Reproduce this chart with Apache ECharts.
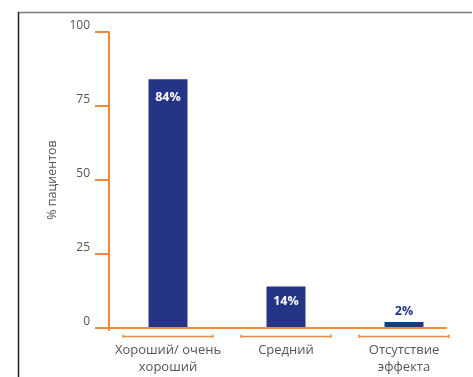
<!DOCTYPE html>
<html>
<head>
<meta charset="utf-8">
<script src="https://cdn.jsdelivr.net/npm/echarts@6/dist/echarts.min.js"></script>
<style>
  html, body { margin: 0; padding: 0; background: #fff; }
  #chart { width: 473px; height: 377px; }
</style>
</head>
<body>
<div id="chart"></div>
<script>
// Response categories and share of patients (%)
const categories = ['Хороший/ очень\nхороший', 'Средний', 'Отсутствие\nэффекта'];
const patientShare = [84, 14, 2];
const valueLabels = ['84%', '14%', '2%'];
const yTicks = { min: 0, max: 100, interval: 25 };
const yTitle = '% пациентов';

const ORANGE = '#f28a3e';
const NAVY = '#253586';
const TEXT = '#555555';
const FONT = '"Open Sans", "Noto Sans", sans-serif';

const chart = echarts.init(document.getElementById('chart'), null, { renderer: 'canvas' });

// Bars: the two tall ones carry their value inside, the short one above
const barData = patientShare.map((v, i) => {
  const inside = v >= 10;
  return {
    value: v,
    label: {
      show: true,
      formatter: valueLabels[i],
      position: inside ? 'insideTop' : 'top',
      distance: inside ? (i === 0 ? 12 : 8) : 4,
      color: inside ? '#ffffff' : NAVY,
      fontWeight: 'bold',
      fontSize: 12.5,
      fontFamily: FONT
    }
  };
});

// Orange baseline plus a bracket under each category
function renderBrackets(params, api) {
  const idx = api.value(0);
  const p = api.coord([idx, 0]);
  const band = api.size([1, 0])[0];
  const half = band * 0.38;
  const y = p[1] + 8.5;
  const style = { stroke: ORANGE, lineWidth: 1.5 };
  const children = [
    { type: 'line', shape: { x1: p[0] - half, y1: y, x2: p[0] + half, y2: y }, style },
    { type: 'line', shape: { x1: p[0] - half, y1: y - 2, x2: p[0] - half, y2: y + 1.5 }, style },
    { type: 'line', shape: { x1: p[0] + half, y1: y - 2, x2: p[0] + half, y2: y + 1.5 }, style }
  ];
  if (idx === categories.length - 1) {
    const x0 = params.coordSys.x;
    children.push({
      type: 'line',
      shape: { x1: x0, y1: p[1], x2: p[0] + half - 2, y2: p[1] },
      style: { stroke: ORANGE, lineWidth: 2 }
    });
    // short stub of the value axis below the baseline
    children.push({
      type: 'line',
      shape: { x1: x0, y1: p[1], x2: x0, y2: p[1] + 3 },
      style: { stroke: ORANGE, lineWidth: 2 }
    });
  }
  return { type: 'group', children };
}

chart.setOption({
  animation: false,
  backgroundColor: '#ffffff',
  grid: { left: 109, right: 10, top: 32, bottom: 49, containLabel: false },
  graphic: [
    { type: 'line', shape: { x1: 18, y1: 12.5, x2: 472, y2: 12.5 }, style: { stroke: '#7a7a7a', lineWidth: 1.5 } },
    { type: 'line', shape: { x1: 18.5, y1: 12, x2: 18.5, y2: 377 }, style: { stroke: '#222222', lineWidth: 1.5 } }
  ],
  xAxis: {
    type: 'category',
    data: categories,
    axisLine: { show: false },
    axisTick: { show: false },
    axisLabel: {
      color: TEXT,
      fontSize: 13,
      fontFamily: FONT,
      lineHeight: 17,
      margin: 14,
      interval: 0
    }
  },
  yAxis: {
    type: 'value',
    min: yTicks.min,
    max: yTicks.max,
    interval: yTicks.interval,
    name: yTitle,
    nameLocation: 'middle',
    nameRotate: 90,
    nameGap: 47,
    nameTextStyle: { color: TEXT, fontSize: 12.5, fontFamily: FONT },
    axisLine: { show: true, lineStyle: { color: ORANGE, width: 2 } },
    axisTick: { show: true, length: 14, lineStyle: { color: ORANGE, width: 2 } },
    splitLine: { show: false },
    axisLabel: {
      color: TEXT,
      fontSize: 12,
      fontFamily: FONT,
      margin: 19,
      verticalAlign: 'bottom'
    }
  },
  series: [
    {
      type: 'bar',
      data: barData,
      barWidth: 39,
      itemStyle: { color: NAVY },
      z: 3
    },
    {
      type: 'custom',
      data: categories.map((c, i) => [i, 0]),
      renderItem: renderBrackets,
      clip: false,
      silent: true,
      z: 4
    }
  ]
});
</script>
</body>
</html>
